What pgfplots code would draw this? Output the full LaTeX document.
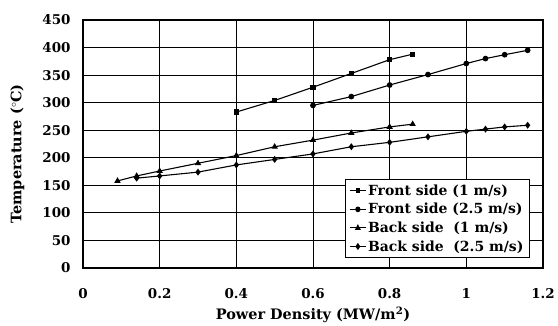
\documentclass[border=0pt]{standalone}
\usepackage{pgfplots}
\pgfplotsset{compat=1.18}
\usepackage{fontspec}
\setmainfont{DejaVu Serif}
\begin{document}
\begin{tikzpicture}
\begin{axis}[
  scale only axis,
  width=460bp, height=248bp,
  xmin=0, xmax=1.2, ymin=0, ymax=450,
  xtick={0,0.2,0.4,0.6,0.8,1,1.2},
  ytick={0,50,...,450},
  xticklabels={0,0.2,0.4,0.6,0.8,1,1.2},
  grid=major,
  major grid style={black, line width=0.8pt},
  axis line style={black, line width=1.1pt},
  tick style={draw=none},
  font=\bfseries\fontsize{13}{15}\selectfont,
  /pgf/number format/assume math mode=true,
  xticklabel style={yshift=-17bp, font=\bfseries\fontsize{13.5}{15}\selectfont},
  yticklabel style={xshift=-9bp, font=\bfseries\fontsize{13.5}{15}\selectfont},
  xlabel={Power Density (MW/m$^{\mathbf{2}}$)},
  ylabel={Temperature ($^{\circ}$C)},
  xlabel style={at={(axis description cs:0.50,0)}, anchor=north, yshift=-35bp, font=\bfseries\fontsize{14.5}{16}\selectfont},
  ylabel style={at={(axis description cs:0,0.46)}, anchor=south, yshift=55bp, font=\bfseries\fontsize{14.5}{16}\selectfont},
  legend style={at={(axis cs:1.166,18)}, anchor=south east, draw=black, line width=1.1pt,
    font=\bfseries\fontsize{14}{16}\selectfont, row sep=2.5pt, inner xsep=4pt, inner ysep=3pt},
  legend image post style={xscale=0.9},
  legend cell align=left,
  every axis plot/.append style={black, line width=1.1pt, mark size=2.3pt},
]
\addplot[mark=square*, mark size=2pt] coordinates {(0.4,283) (0.5,304) (0.6,328) (0.7,353) (0.8,378) (0.86,388)};
\addlegendentry{Front side (1 m/s)}
\addplot[mark=*] coordinates {(0.6,295) (0.7,311) (0.8,332) (0.9,351) (1.0,371) (1.05,380) (1.1,387) (1.16,395)};
\addlegendentry{Front side (2.5 m/s)}
\addplot[mark=triangle*, mark size=2.6pt] coordinates {(0.09,158) (0.14,167) (0.2,176) (0.3,190) (0.4,204) (0.5,220) (0.6,232) (0.7,245) (0.8,256) (0.86,261)};
\addlegendentry{Back side\ \ (1 m/s)}
\addplot[mark=diamond*, mark size=2.6pt] coordinates {(0.14,163) (0.2,167) (0.3,174) (0.4,187) (0.5,197) (0.6,207) (0.7,220) (0.8,228) (0.9,238) (1.0,248) (1.05,252) (1.1,256) (1.16,259)};
\addlegendentry{Back side\ \ (2.5 m/s)}
\end{axis}
\path ([xshift=-83bp,yshift=-52bp]current axis.south west) rectangle ([xshift=15bp,yshift=20bp]current axis.north east);
\end{tikzpicture}
\end{document}
